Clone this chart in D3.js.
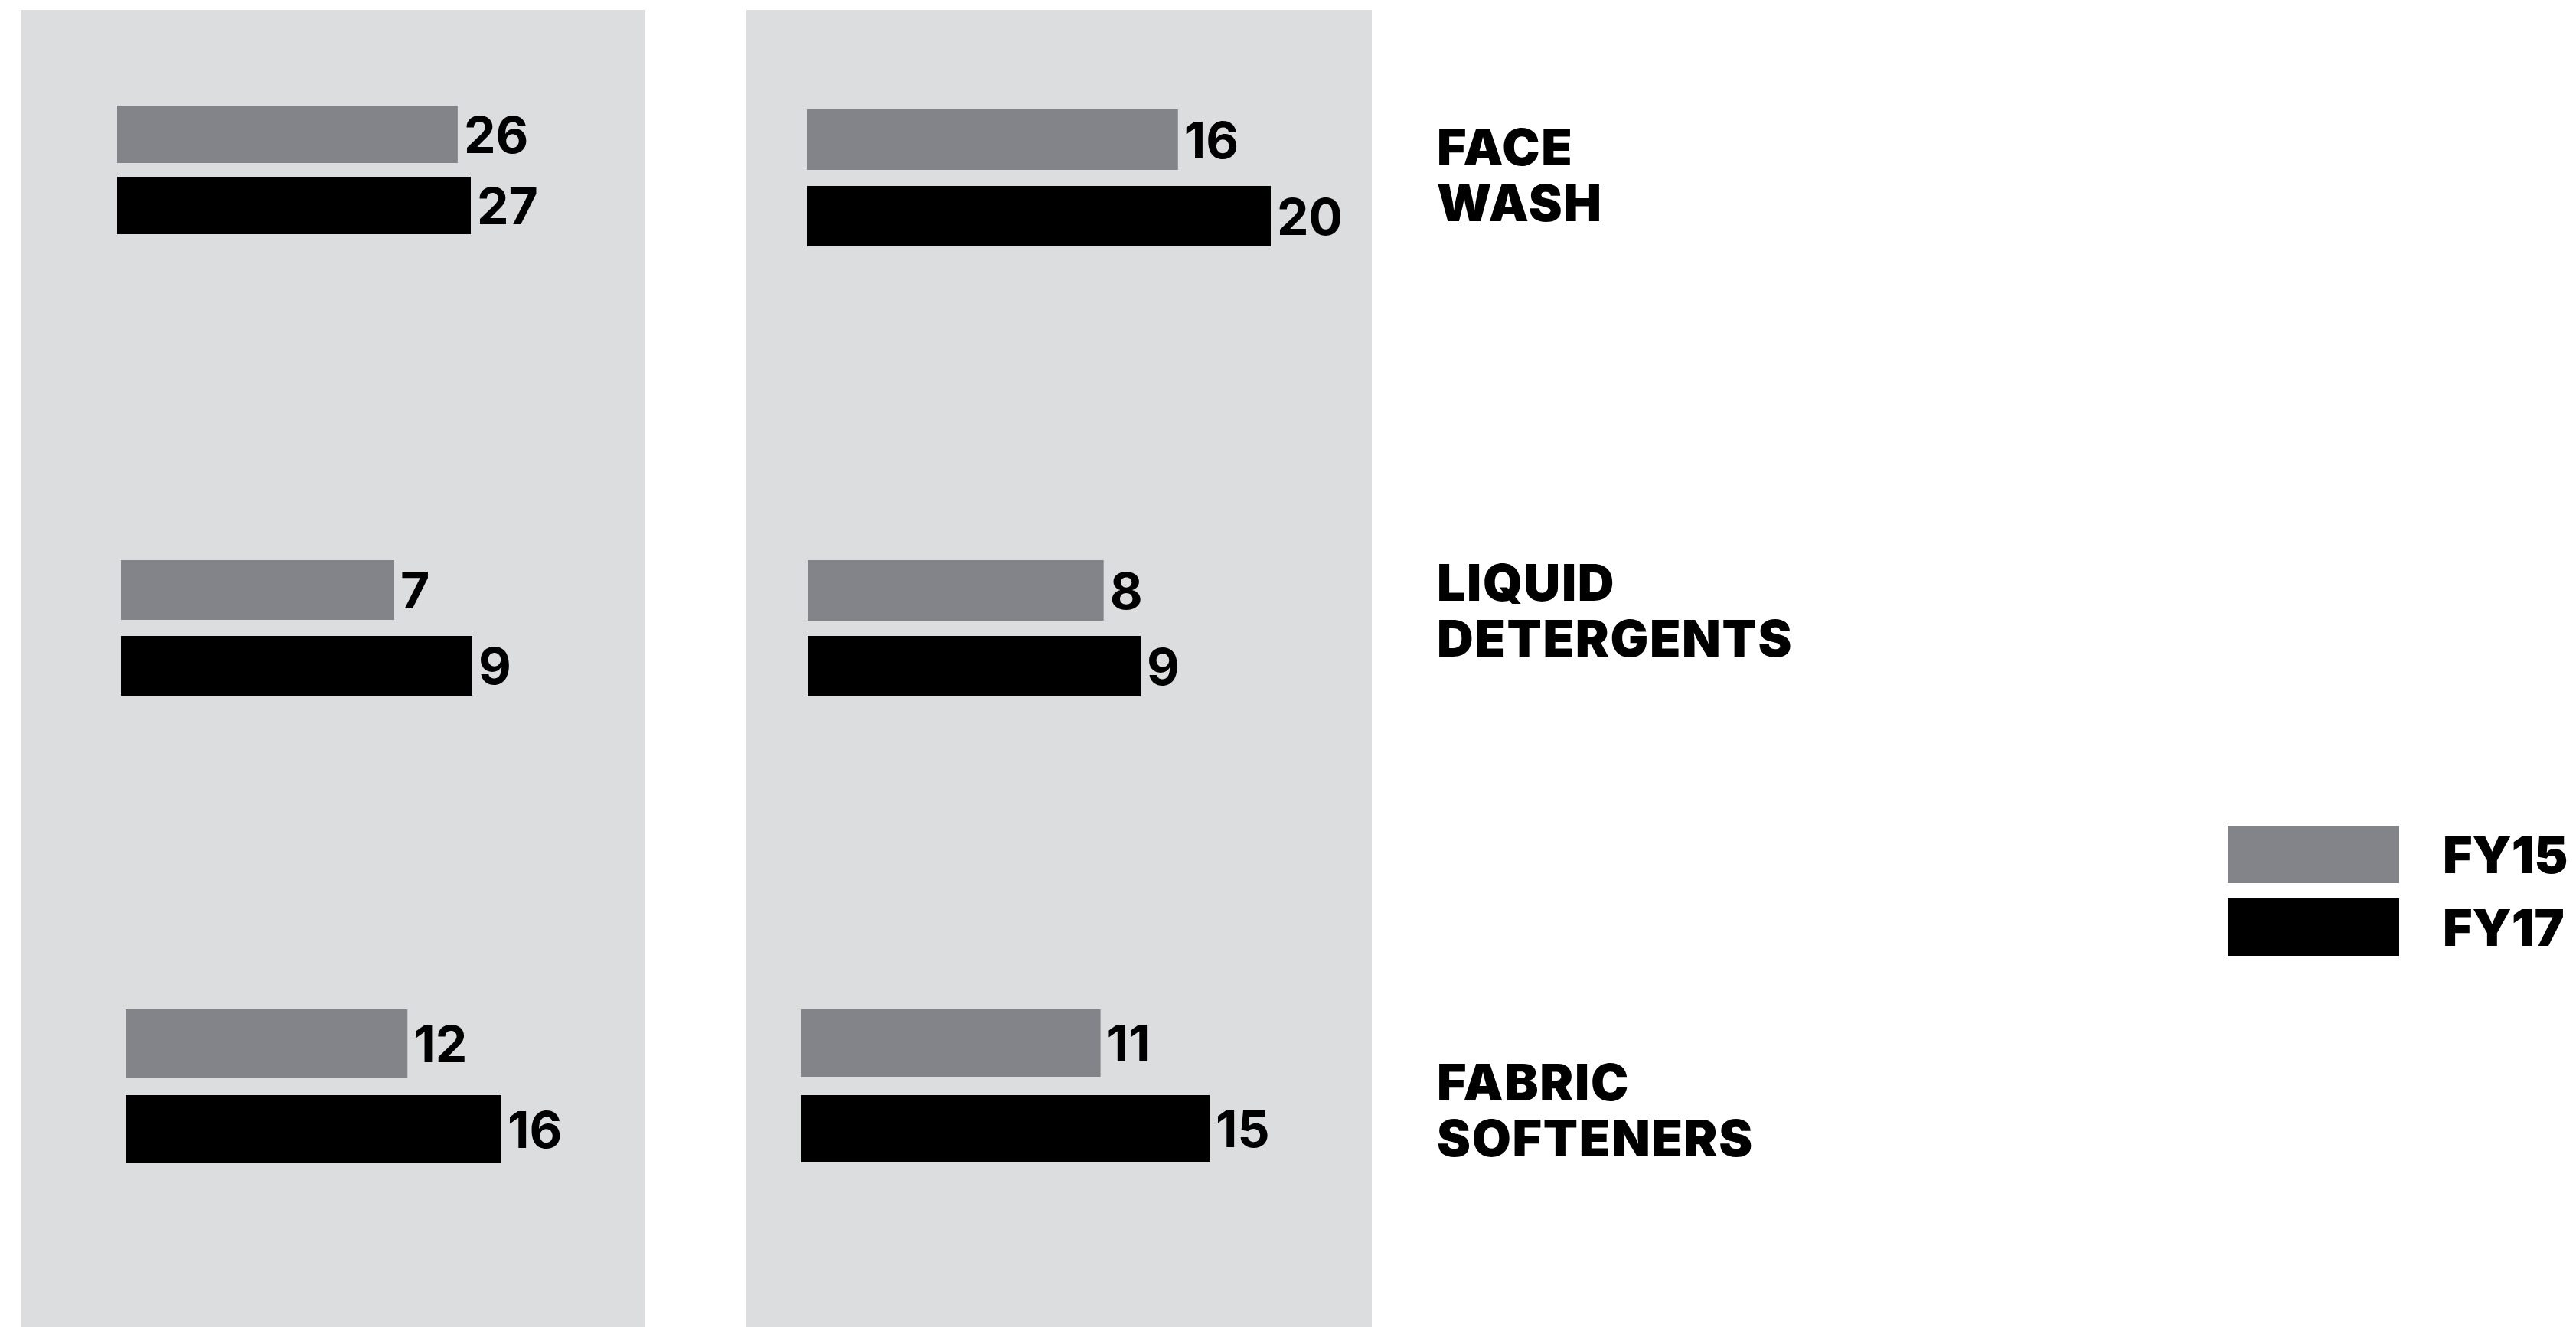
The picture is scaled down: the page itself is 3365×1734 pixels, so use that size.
<!DOCTYPE html>
<html>
<head>
<meta charset="utf-8">
<script src="https://cdn.jsdelivr.net/npm/d3@7"></script>
<style>
  html, body { margin: 0; padding: 0; background: #ffffff; }
  svg { display: block; }
  .val { font-family: Inter, "Open Sans", sans-serif; font-weight: 700; font-size: 66px; fill: #000; }
  .cat { font-family: Inter, "Open Sans", sans-serif; font-weight: 900; font-size: 66px; fill: #000; }
  .cat.name { letter-spacing: 1.7px; }
</style>
</head>
<body>
<script>
// ---- data ----
const categories = ["FACE WASH", "LIQUID DETERGENTS", "FABRIC SOFTENERS"];
const seriesNames = ["FY15", "FY17"];
// one array per panel, one [FY15, FY17] pair per category
const panelA = [[26, 27], [7, 9], [12, 16]];
const panelB = [[16, 20], [8, 9], [11, 15]];

// ---- layout ----
const W = 3365, H = 1734;
const colors = d3.scaleOrdinal().domain(seriesNames).range(["#838489", "#000000"]);
const panelRects = [{ x: 28, w: 815 }, { x: 975, w: 817 }];
// each cell has its own bar scale: x origin, pixel length of its largest bar,
// and the vertical placement of the two bars
const cellLayout = [
  [ { x0: 153, len: 462, y: [138, 231], h: 75 }, { x0: 1054, len: 606, y: [143, 243], h: 79 } ],
  [ { x0: 158, len: 459, y: [732, 831], h: 78 }, { x0: 1055, len: 435, y: [732, 831], h: 79 } ],
  [ { x0: 164, len: 491, y: [1319, 1431], h: 89 }, { x0: 1046, len: 534, y: [1319, 1431], h: 88 } ]
];
const catX = 1877;
const catBaselines = [[215.5, 288.5], [785, 858], [1438, 1511]];
const capH = 48;

const svg = d3.select("body").append("svg").attr("width", W).attr("height", H);

// panel backgrounds
svg.selectAll("rect.panel").data(panelRects).join("rect")
  .attr("class", "panel")
  .attr("x", d => d.x).attr("y", 13)
  .attr("width", d => d.w).attr("height", H - 13)
  .attr("fill", "#dcdddf");

const panels = [panelA, panelB];
panels.forEach((panel, p) => {
  panel.forEach((vals, r) => {
    const L = cellLayout[r][p];
    const x = d3.scaleLinear().domain([0, d3.max(vals)]).range([0, L.len]);
    const g = svg.append("g").attr("transform", `translate(${L.x0},0)`);
    const items = vals.map((v, i) => ({ v, s: seriesNames[i], y: L.y[i], h: L.h }));
    g.selectAll("rect.bar").data(items).join("rect")
      .attr("class", "bar")
      .attr("x", x(0)).attr("y", d => d.y)
      .attr("width", d => x(d.v)).attr("height", d => d.h)
      .attr("fill", d => colors(d.s));
    g.selectAll("text.val").data(items).join("text")
      .attr("class", "val")
      .attr("x", d => x(d.v) + 8)
      .attr("y", d => d.y + d.h / 2 + capH / 2)
      .text(d => d.v);
  });
});

// category labels, split over two lines
categories.forEach((c, i) => {
  const words = c.split(" ");
  svg.append("g").selectAll("text").data(words).join("text")
    .attr("class", "cat name")
    .attr("x", catX)
    .attr("y", (w, j) => catBaselines[i][j])
    .text(w => w);
});

// legend
const legend = svg.append("g");
const legendY = d3.scalePoint().domain(seriesNames).range([1079, 1174]);
legend.selectAll("rect").data(seriesNames).join("rect")
  .attr("x", 2910).attr("y", d => legendY(d))
  .attr("width", 224).attr("height", 75)
  .attr("fill", d => colors(d));
legend.selectAll("text").data(seriesNames).join("text")
  .attr("class", "cat")
  .attr("x", 3191).attr("y", d => legendY(d) + 37.5 + capH / 2)
  .text(d => d);
</script>
</body>
</html>
